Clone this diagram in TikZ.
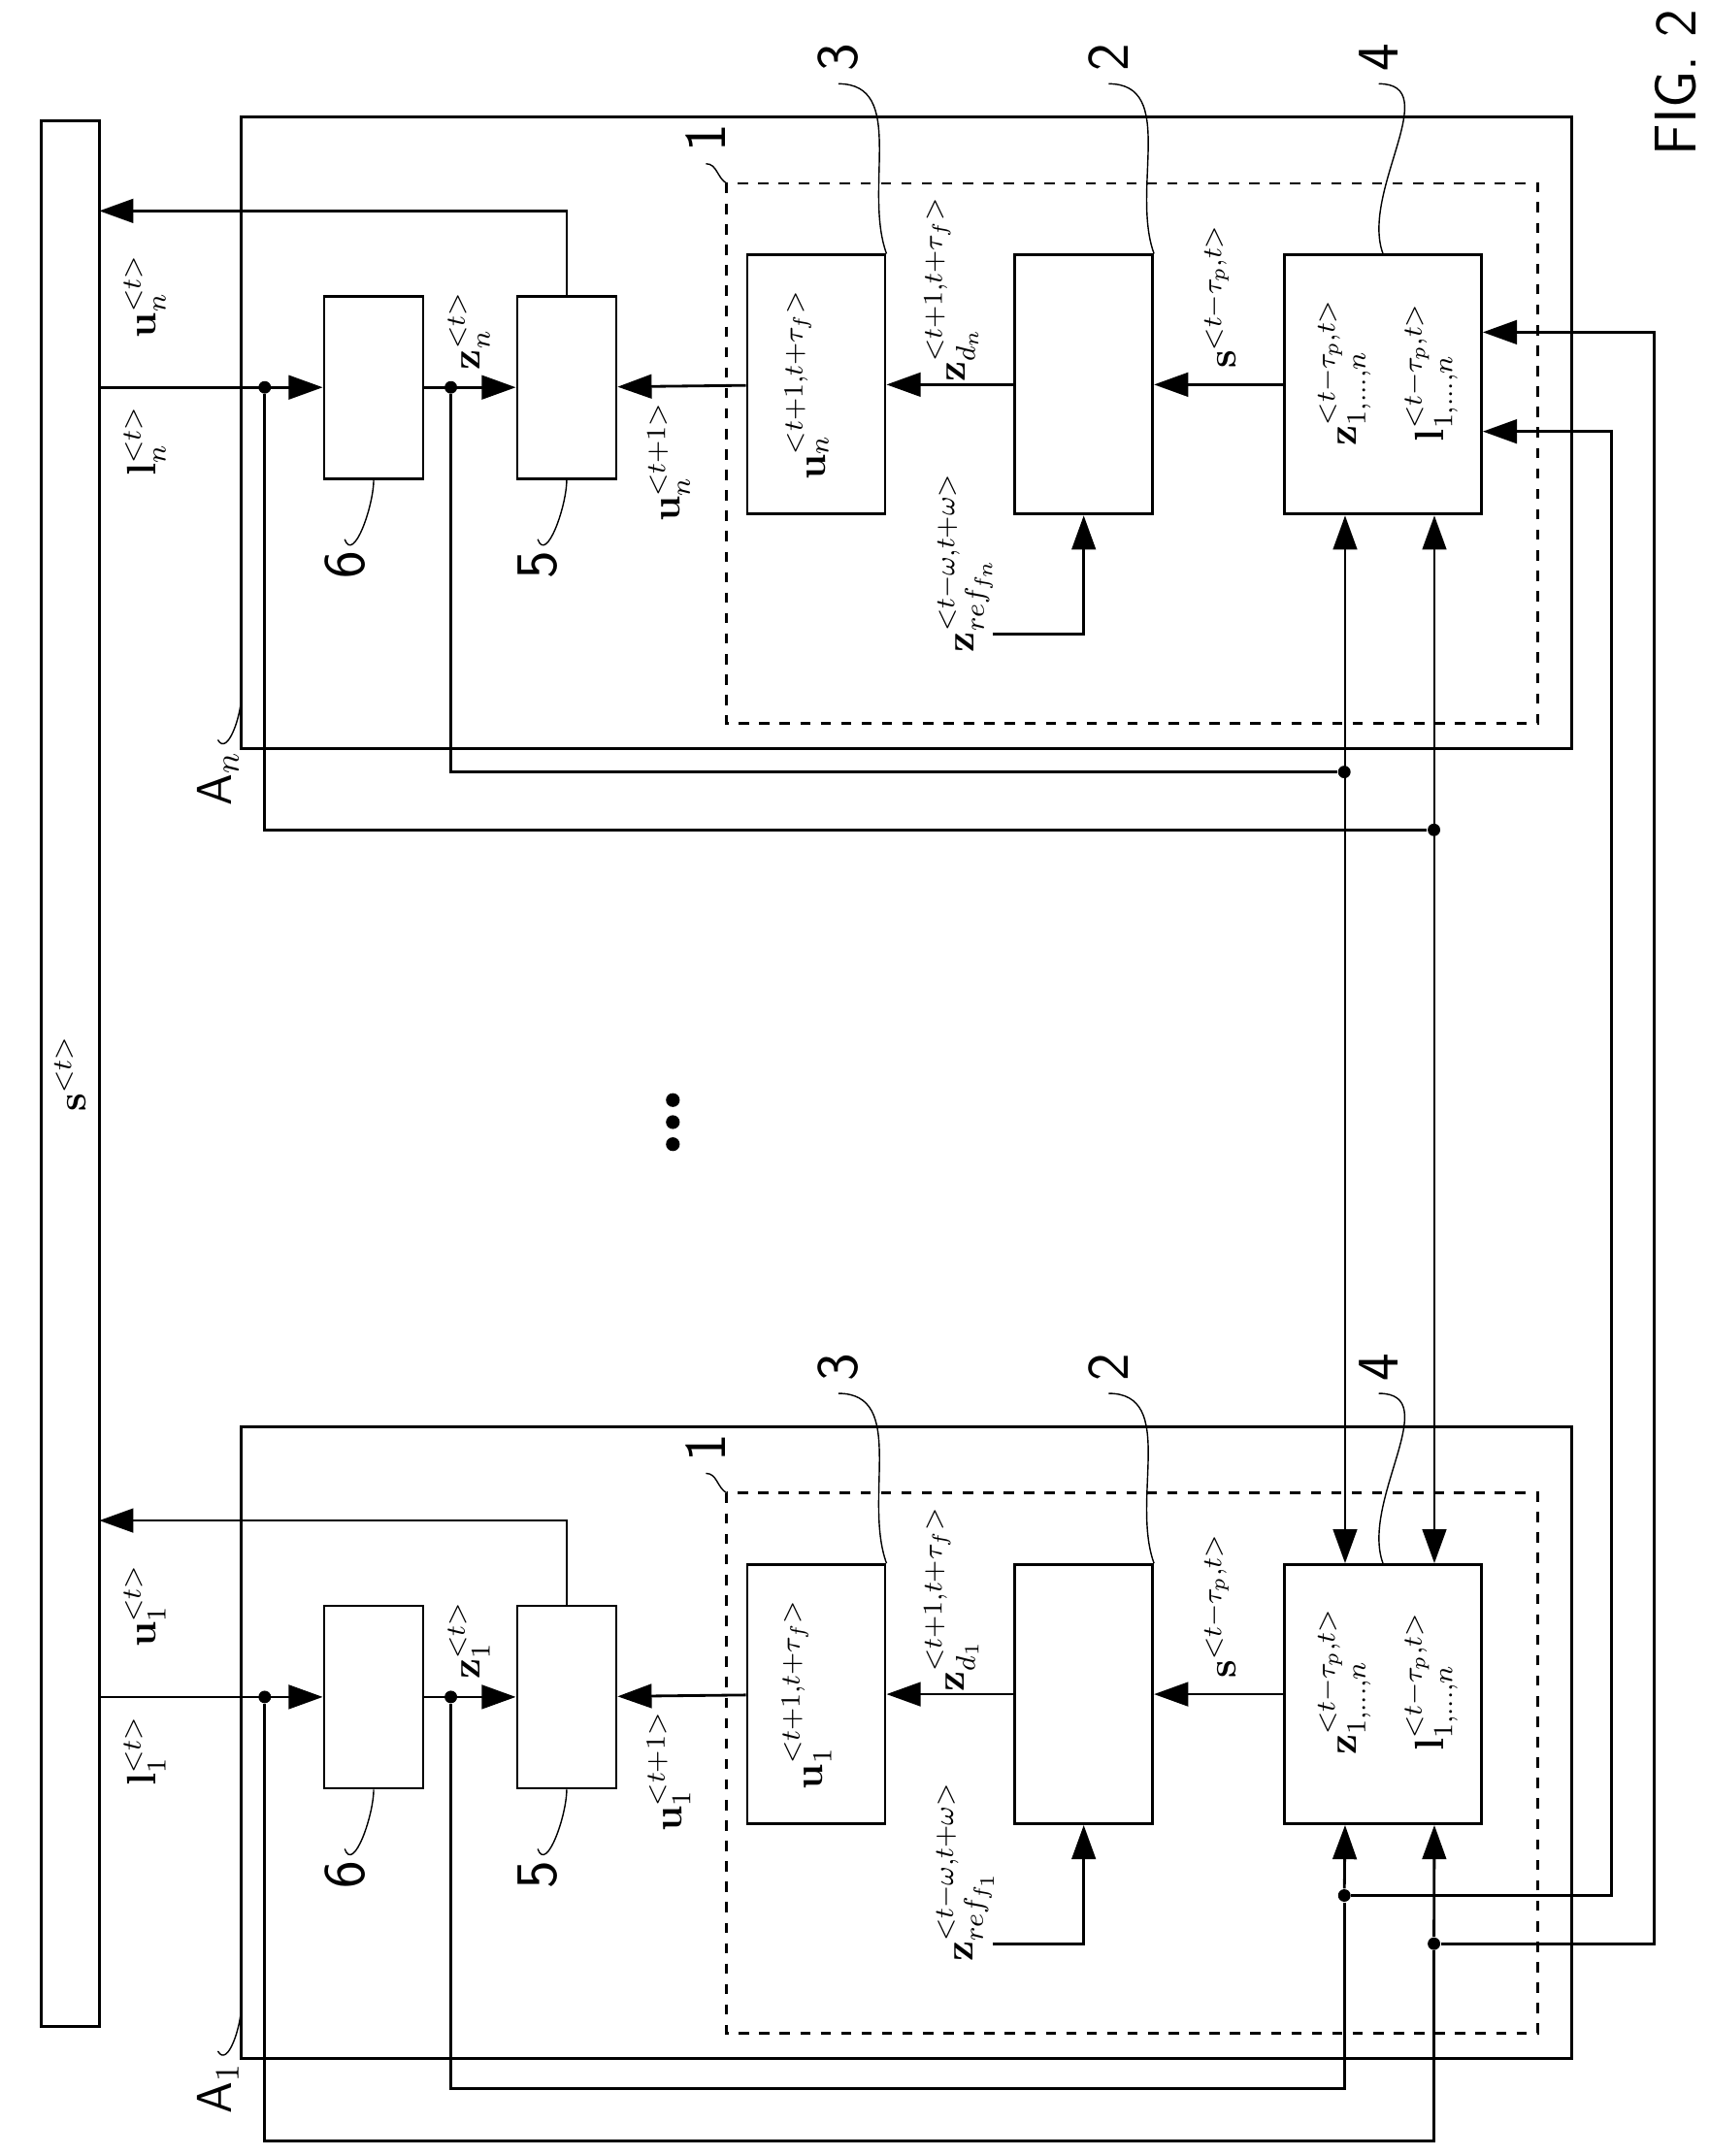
\documentclass[tikz,border=0pt]{standalone}
\usetikzlibrary{arrows.meta}
\begin{document}
\begin{tikzpicture}[x=0.01421cm, y=-0.01421cm,
  blk/.style={draw, thick, inner sep=0pt},
  lbl/.style={rotate=90, font=\large},
  num/.style={rotate=90, font=\sffamily\LARGE},
  arrow/.style={-{Triangle[length=10pt,width=7pt]}, thick},
  darrow/.style={{Triangle[length=10pt,width=7pt]}-{Triangle[length=10pt,width=7pt]}, thick},
  dot/.style={circle, fill, inner sep=1.3pt}
]
  \useasboundingbox (0,0) rectangle (1240,1564);
  % bus
  \node[blk, minimum width=0.6cm, minimum height=19.64cm] (bus) at (51,779) {};
  \node[lbl] at (bus) {$\mathbf{s}^{<t>}$};
  \foreach \yy in {798,814,830}
    \fill (488,\yy) circle (5);
  \node[num] at (1215,60) {FIG. 2};

  % the two agents
  \foreach \dy/\k/\A in {0/n/n, 950/1/1}{
    \draw[thick] (175,85+\dy) rectangle (1140,543+\dy);
    \draw[thick, dashed] (527,133+\dy) rectangle (1115,525+\dy);
    \node[blk, minimum width=1.02cm, minimum height=1.88cm] (six\k) at (271,281+\dy) {};
    \node[blk, minimum width=1.02cm, minimum height=1.88cm] (five\k) at (411,281+\dy) {};
    \node[blk, minimum width=1.42cm, minimum height=2.67cm] (three\k) at (592,279+\dy) {};
    \node[blk, minimum width=1.42cm, minimum height=2.67cm] (two\k) at (786,279+\dy) {};
    \node[blk, minimum width=2.03cm, minimum height=2.67cm] (four\k) at (1003,279+\dy) {};
    \coordinate (in\k) at (72,281+\dy);
    \coordinate (out\k) at (72,153+\dy);
    \node[dot] (da\k) at (192,281+\dy) {};
    \node[dot] (db\k) at (327,281+\dy) {};

    % signal path
    \draw[arrow] (in\k) -- (six\k);
    \draw[arrow] (six\k) -- (five\k);
    \draw[arrow] (three\k) -- (five\k);
    \draw[arrow] (two\k) -- (three\k);
    \draw[arrow] (four\k) -- (two\k);
    \draw[arrow] (five\k.north) |- (out\k);
    \node[lbl] (ref\k) at (700,408+\dy) {$\mathbf{z}_{ref_{f_{\A}}}^{<t-\omega,t+\omega>}$};
    \draw[arrow] (720,460+\dy) -| (two\k.south);

    % labels
    \node[lbl] at (105,320+\dy) {$\mathbf{l}_{\A}^{<t>}$};
    \node[lbl] at (105,215+\dy) {$\mathbf{u}_{\A}^{<t>}$};
    \node[lbl] at (340,240+\dy) {$\mathbf{z}_{\A}^{<t>}$};
    \node[lbl] at (485,335+\dy) {$\mathbf{u}_{\A}^{<t+1>}$};
    \node[lbl] at (585,279+\dy) {$\mathbf{u}_{\A}^{<t+1,t+\tau_f>}$};
    \node[lbl] at (690,210+\dy) {$\mathbf{z}_{d_{\A}}^{<t+1,t+\tau_f>}$};
    \node[lbl] at (885,215+\dy) {$\mathbf{s}^{<t-\tau_p,t>}$};
    \node[lbl] at (975,270+\dy) {$\mathbf{z}_{1,\ldots,n}^{<t-\tau_p,t>}$};
    \node[lbl] at (1038,270+\dy) {$\mathbf{l}_{1,\ldots,n}^{<t-\tau_p,t>}$};

    % reference numerals
    \node[num] (n1\k) at (512,100+\dy) {1};
    \node[num] (n3\k) at (608,42+\dy) {3};
    \node[num] (n2\k) at (804,42+\dy) {2};
    \node[num] (n4\k) at (1000,42+\dy) {4};
    \node[num] (n6\k) at (250,410+\dy) {6};
    \node[num] (n5\k) at (390,410+\dy) {5};
    \node[rotate=90, font=\sffamily\Large] (nA\k) at (158,565+\dy) {A$_{\A}$};
    \draw (n1\k.west) to[out=0,in=150] (527,133+\dy);
    \draw (n3\k.west) to[out=0,in=110] (three\k.north east);
    \draw (n2\k.west) to[out=0,in=110] (two\k.north east);
    \draw (n4\k.west) to[out=0,in=110] (four\k.north);
    \draw (n6\k.east) to[out=-70,in=-90] (six\k.south);
    \draw (n5\k.east) to[out=-70,in=-90] (five\k.south);
    \draw (nA\k.east) to[out=-60,in=-90] (175,505+\dy);
  }

  % feedback inside agent n
  \node[dot] (ea) at (1040,602) {};
  \node[dot] (eb) at (975,560) {};
  \draw[thick] (dan) |- (ea);
  \draw[thick] (dbn) |- (eb);
  \draw[darrow] ([xshift=-0.39cm]fourn.south) -- ([xshift=-0.39cm]four1.north);
  \draw[darrow] ([xshift=0.53cm]fourn.south) -- ([xshift=0.53cm]four1.north);

  % feedback of agent 1
  \node[dot] (fa) at (975,1375) {};
  \node[dot] (fb) at (1040,1410) {};
  \draw[thick] (db1) |- (975,1515) -- (fa);
  \draw[arrow] (fa) -- ([xshift=-0.39cm]four1.south);
  \draw[thick] (da1) |- (1040,1553) -- (fb);
  \draw[arrow] (fb) -- ([xshift=0.53cm]four1.south);
  \draw[arrow] (fa) -| (1169,313) -- (fourn.east |- 0,313);
  \draw[arrow] (fb) -| (1200,241) -- (fourn.east |- 0,241);
\end{tikzpicture}
\end{document}
